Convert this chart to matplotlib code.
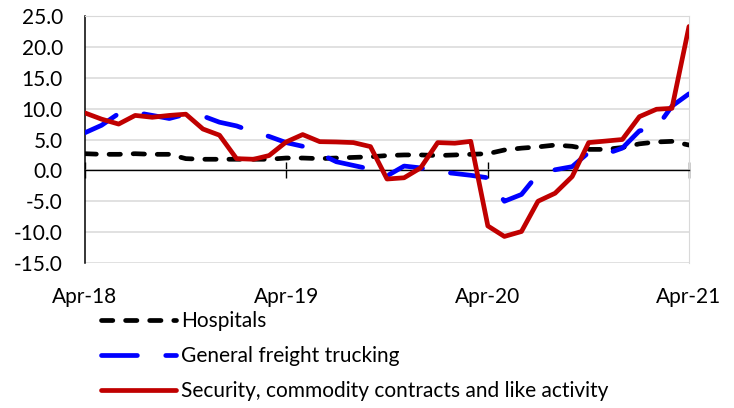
import pandas as pd
import matplotlib
matplotlib.use("Agg")
import matplotlib.pyplot as plt
import matplotlib.dates as mdates

# monthly series, Apr-2018 .. Apr-2021
months = pd.date_range("2018-04-01", periods=37, freq="MS")
tick_months = pd.to_datetime(["2018-04-01", "2019-04-01", "2020-04-01", "2021-04-01"])

hospitals = [2.7, 2.6, 2.6, 2.7, 2.6, 2.6, 1.9, 1.8, 1.8, 1.8, 1.8, 1.8,
             2.0, 2.0, 1.9, 2.0, 2.1, 2.2, 2.4, 2.5, 2.5, 2.4, 2.5, 2.6,
             2.7, 3.3, 3.6, 3.8, 4.1, 3.9, 3.4, 3.4, 3.7, 4.3, 4.6, 4.7, 4.1]
trucking = [6.1, 7.3, 9.2, 9.4, 8.9, 8.4, 9.1, 8.8, 7.8, 7.2, 6.2, 5.5,
            4.5, 3.9, 2.7, 1.4, 0.8, 0.2, -0.9, 0.7, 0.4, -0.2, -0.5, -0.8,
            -1.2, -5.0, -3.9, -0.6, 0.1, 0.6, 2.9, 2.65, 3.6, 6.4, 6.9, 10.4, 12.4]
security = [9.3, 8.3, 7.5, 8.9, 8.6, 8.9, 9.1, 6.7, 5.7, 1.9, 1.8, 2.4,
            4.6, 5.8, 4.65, 4.6, 4.5, 3.85, -1.4, -1.2, 0.4, 4.5, 4.4, 4.7,
            -9.0, -10.7, -9.9, -5.0, -3.7, -1.0, 4.5, 4.75, 5.0, 8.7, 9.9, 10.05, 23.3]

labels = ["Hospitals", "General freight trucking",
          "Security, commodity contracts and like activity"]

plt.rcParams["font.family"] = ["Lato", "DejaVu Sans"]
fs = 15

fig = plt.figure(figsize=(7.34, 4.08), dpi=100)
ax = fig.add_axes([85 / 734, 1 - 263 / 408, 604 / 734, 247 / 408])

lw = 3.4
ax.plot(months, hospitals, color="black", lw=lw, dashes=(2.4, 2.7),
        dash_capstyle="round", label=labels[0], zorder=3)
ax.plot(months, trucking, color="#0000FF", lw=lw, dashes=(7.6, 6.0),
        dash_capstyle="round", label=labels[1], zorder=4)
ax.plot(months, security, color="#C00000", lw=lw, solid_capstyle="round",
        label=labels[2], zorder=5)

ax.set_ylim(-15, 25)
ax.set_yticks(range(-15, 30, 5))
ax.yaxis.set_major_formatter(matplotlib.ticker.FormatStrFormatter("%.1f"))
ax.set_xlim(months[0], months[-1])
ax.grid(axis="y", color="#d9d9d9", lw=1.1)
ax.set_axisbelow(True)

ax.spines["top"].set_color("#d9d9d9")
ax.spines["right"].set_color("#d9d9d9")
ax.spines["left"].set_color("black")
ax.spines["left"].set_linewidth(1.1)
ax.spines["bottom"].set_position(("data", 0))
ax.spines["bottom"].set_linewidth(1.0)
ax.tick_params(axis="y", length=0, pad=16, labelsize=fs)
ax.set_xticks(tick_months)
ax.tick_params(axis="x", direction="inout", length=11, width=1.0,
               labelbottom=False)

# date labels along the bottom of the plot area
sec = ax.secondary_xaxis("bottom")
sec.set_xticks(tick_months)
sec.xaxis.set_major_formatter(mdates.DateFormatter("%b-%y"))
sec.spines["bottom"].set_visible(False)
sec.tick_params(length=0, pad=17, labelsize=fs)

fig.legend(loc="upper left", bbox_to_anchor=(101 / 734, 1 - 311 / 408),
           frameon=False, fontsize=fs, handlelength=3.6, handletextpad=0.25,
           labelspacing=0.72, borderpad=0, borderaxespad=0)

fig.savefig("out.png", dpi=100)
